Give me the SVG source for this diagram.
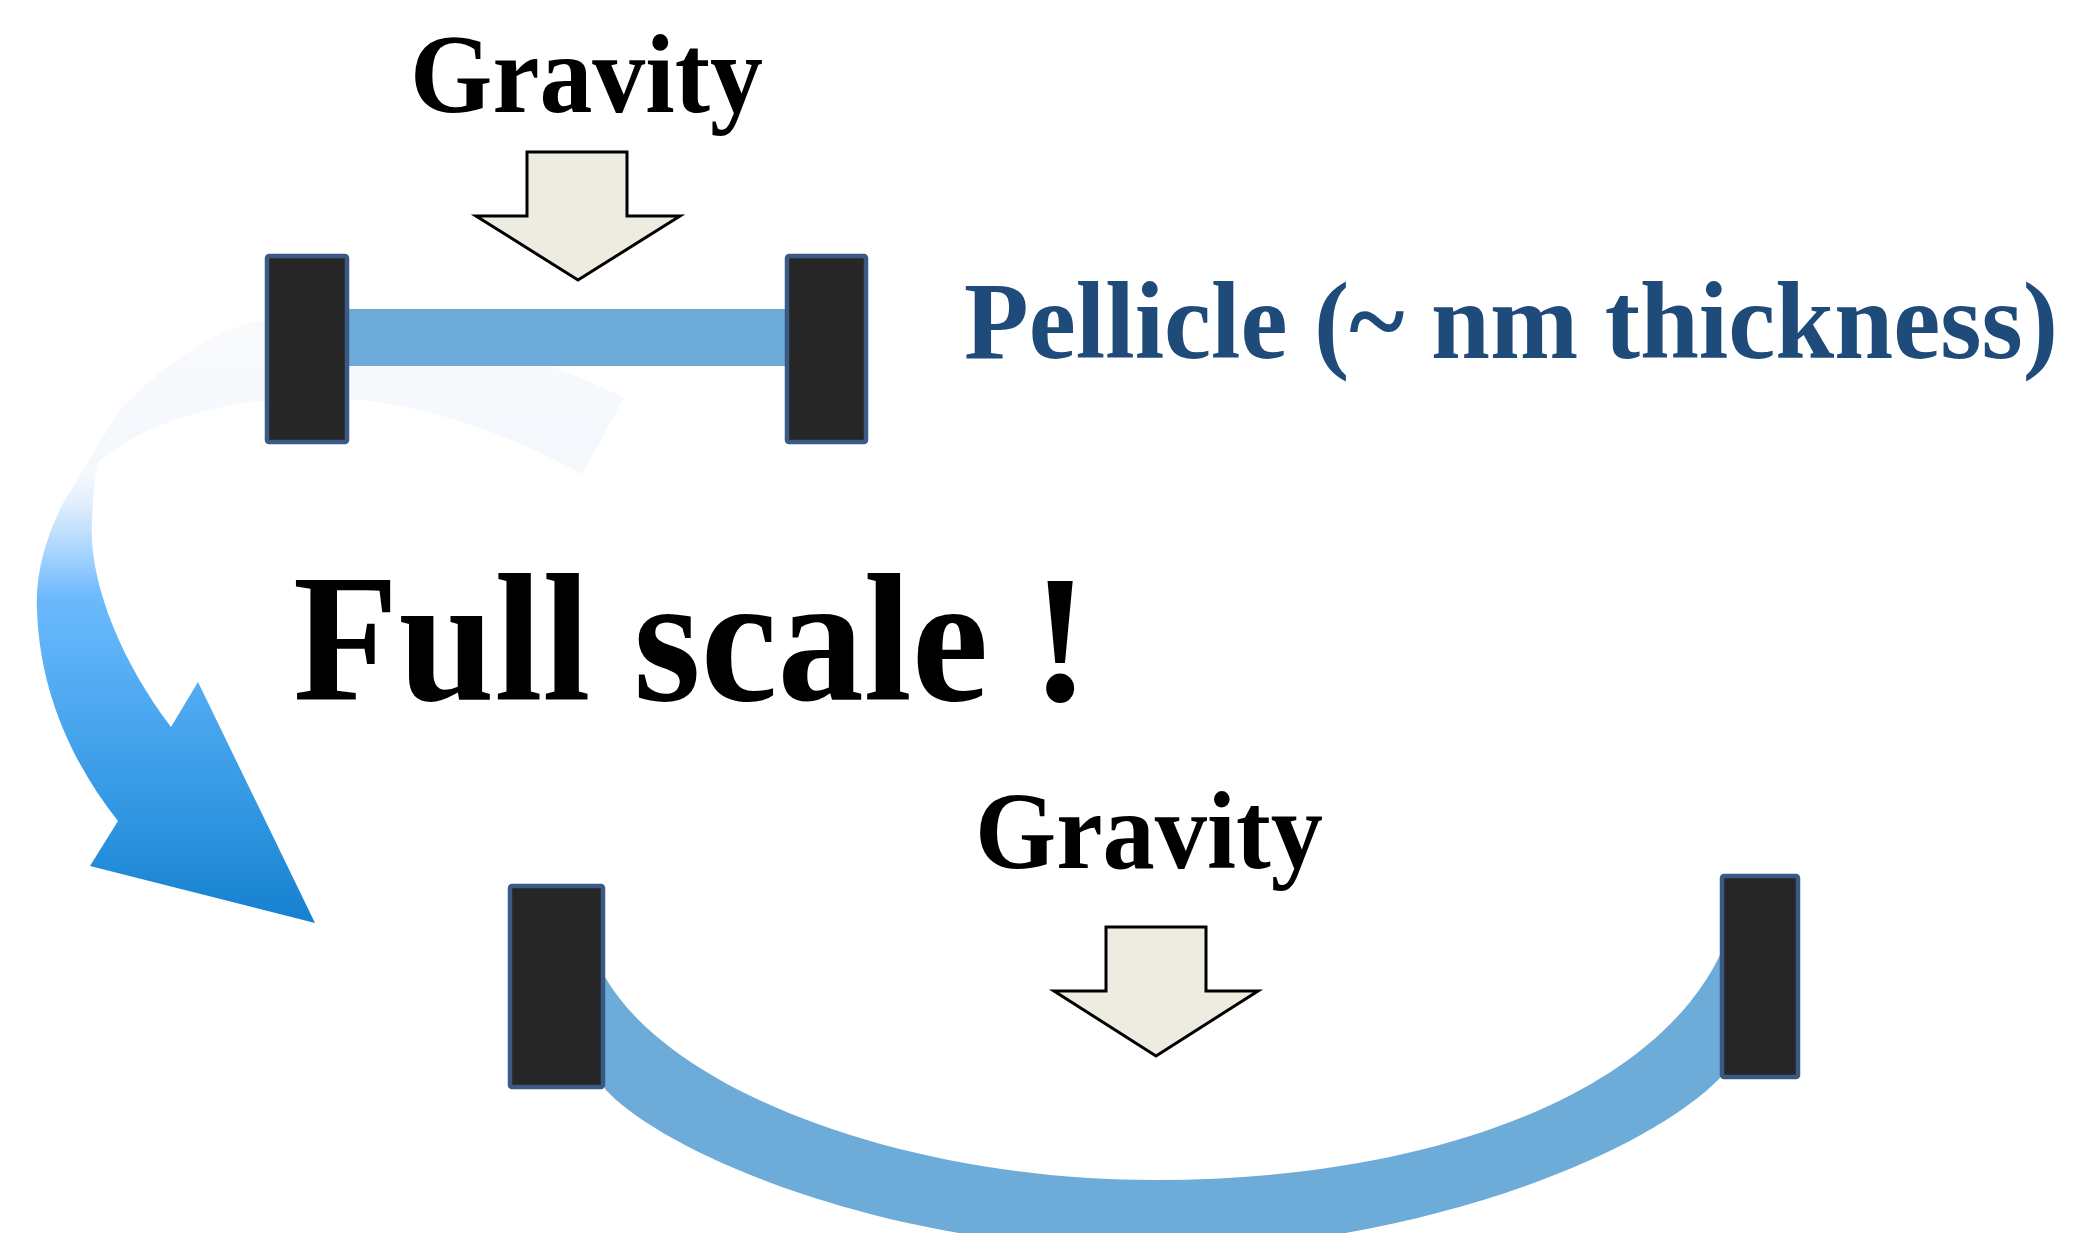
<svg xmlns="http://www.w3.org/2000/svg" width="2073" height="1233" viewBox="0 0 2073 1233">
<style>
.frame{fill:#262626;stroke:#3a5a85;stroke-width:4.5}
.film{fill:#6dabd9}
.grav{fill:#eeece1;stroke:#000;stroke-width:3;stroke-linejoin:miter}
.t{font-family:"Liberation Serif","Times New Roman",serif;font-weight:bold}
</style>
<defs>
<linearGradient id="bend" gradientUnits="userSpaceOnUse" x1="0" y1="310" x2="0" y2="925">
<stop offset="0" stop-color="#f9fafc"/>
<stop offset="0.27" stop-color="#f3f8fd"/>
<stop offset="0.317" stop-color="#e0eefc"/>
<stop offset="0.392" stop-color="#a9d5fe"/>
<stop offset="0.467" stop-color="#6cb9fc"/>
<stop offset="0.553" stop-color="#5cb2f8"/>
<stop offset="0.841" stop-color="#2d94df"/>
<stop offset="1" stop-color="#1580cf"/>
</linearGradient>
</defs>
<rect width="2073" height="1233" fill="#fff"/>
<g id="connectors">
<path id="bend-arrow" fill="url(#bend)" d="M582 474 L624 398 C520 345 380 310 268 320 C220 325 170 360 120 409 L62 505 C45 540 35 575 37 611 C40 690 70 760 118 821 L90 866 L315 923 L198 682 L171 727 C120 660 88 580 92 520 C93 495 95 475 98 462 C160 410 260 392 360 400 C440 408 520 440 582 474 Z"/>
</g>
<g id="flat-pellicle">
<rect class="film" x="349" y="309" width="436" height="57"/>
<rect class="frame" x="267" y="256" width="80" height="186" rx="2"/>
<rect class="frame" x="787" y="256" width="79" height="186" rx="2"/>
</g>
<g id="gravity-top">
<text class="t" x="410" y="112" font-size="112" textLength="353" lengthAdjust="spacingAndGlyphs">Gravity</text>
<path class="grav" d="M527 152 L627 152 L627 216 L680 216 L578 280 L476 216 L527 216 Z"/>
</g>
<g id="pellicle-label">
<text class="t" x="964" y="358" font-size="110" fill="#1f4b7a" textLength="1094" lengthAdjust="spacingAndGlyphs">Pellicle (~ nm thickness)</text>
</g>
<g id="full-scale">
<text class="t" x="293" y="700" font-size="182" textLength="796" lengthAdjust="spacingAndGlyphs">Full scale !</text>
</g>
<g id="gravity-bottom">
<text class="t" x="975" y="868" font-size="110" textLength="348" lengthAdjust="spacingAndGlyphs">Gravity</text>
<path class="grav" d="M1106 927 L1206 927 L1206 991 L1258 991 L1156 1056 L1054 991 L1106 991 Z"/>
</g>
<g id="sagging-pellicle">
<path class="film" d="M605 977 C670 1090 900 1180 1156 1180 C1420 1180 1650 1100 1720 955 L1720 1078 C1640 1160 1400 1250 1156 1250 C880 1250 660 1150 605 1089 Z"/>
<rect class="frame" x="510" y="886" width="93" height="201" rx="2"/>
<rect class="frame" x="1722" y="876" width="76" height="201" rx="2"/>
</g>
</svg>
